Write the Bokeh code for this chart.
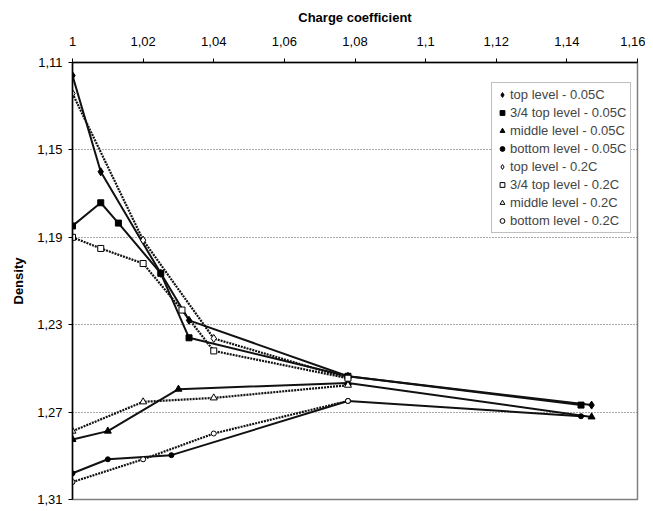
from bokeh.plotting import figure
from bokeh.models import Range1d, FixedTicker, LinearAxis, Legend, Grid
from bokeh.embed import file_html
from bokeh.resources import INLINE

# ---- data (charge coefficient, density) ----
x_top_005 = [1.0, 1.008, 1.025, 1.033, 1.078, 1.147]
y_top_005 = [1.116, 1.160, 1.2065, 1.228, 1.2536, 1.2668]

x_34_005 = [1.0, 1.008, 1.013, 1.025, 1.033, 1.078, 1.144]
y_34_005 = [1.1848, 1.1742, 1.1835, 1.2065, 1.236, 1.2536, 1.2668]

x_mid_005 = [1.0, 1.010, 1.030, 1.078, 1.147]
y_mid_005 = [1.2825, 1.2787, 1.2595, 1.2567, 1.2722]

x_bot_005 = [1.0, 1.010, 1.028, 1.078, 1.144]
y_bot_005 = [1.298, 1.2916, 1.2897, 1.2649, 1.2719]

x_top_02 = [1.0, 1.020, 1.040, 1.078]
y_top_02 = [1.1242, 1.1913, 1.2363, 1.2545]

x_34_02 = [1.0, 1.008, 1.020, 1.031, 1.040, 1.078]
y_34_02 = [1.190, 1.1951, 1.202, 1.2233, 1.242, 1.2545]

x_mid_02 = [1.0, 1.020, 1.040, 1.078]
y_mid_02 = [1.2787, 1.2653, 1.2635, 1.2577]

x_bot_02 = [1.0, 1.020, 1.040, 1.078]
y_bot_02 = [1.302, 1.2916, 1.2798, 1.2649]

x_ticks = [1.0, 1.02, 1.04, 1.06, 1.08, 1.10, 1.12, 1.14, 1.16]
x_tick_labels = ["1", "1,02", "1,04", "1,06", "1,08", "1,1", "1,12", "1,14", "1,16"]
y_ticks = [1.11, 1.15, 1.19, 1.23, 1.27, 1.31]
y_tick_labels = ["1,11", "1,15", "1,19", "1,23", "1,27", "1,31"]

FONT = "Liberation Sans"

p = figure(width=645, height=509, output_backend="svg", toolbar_location=None,
           x_range=Range1d(1.0, 1.16), y_range=Range1d(1.31, 1.11),
           x_axis_location=None, y_axis_location=None,
           min_border_left=72, min_border_right=8, min_border_top=62, min_border_bottom=10)
p.background_fill_color = "white"
p.border_fill_color = "white"
p.outline_line_color = "#808080"
p.outline_line_width = 1.5

xaxis = LinearAxis(axis_label="Charge coefficient")
xaxis.ticker = FixedTicker(ticks=x_ticks)
xaxis.major_label_overrides = {t: l for t, l in zip(x_ticks, x_tick_labels)}
yaxis = LinearAxis(axis_label="Density")
yaxis.ticker = FixedTicker(ticks=y_ticks)
yaxis.major_label_overrides = {t: l for t, l in zip(y_ticks, y_tick_labels)}
for ax in (xaxis, yaxis):
    ax.axis_line_color = "black"
    ax.axis_line_width = 1.5
    ax.major_tick_line_color = "black"
    ax.minor_tick_line_color = None
    ax.major_tick_in = 0
    ax.major_tick_out = 4
    ax.major_label_text_font = FONT
    ax.major_label_text_font_size = "13px"
    ax.major_label_text_color = "black"
    ax.axis_label_text_font = FONT
    ax.axis_label_text_font_size = "13px"
    ax.axis_label_text_font_style = "bold"
    ax.axis_label_text_color = "black"
xaxis.major_label_standoff = 13
xaxis.axis_label_standoff = 9
yaxis.major_label_standoff = 6
yaxis.axis_label_standoff = 8
yaxis.major_label_orientation = "horizontal"
p.add_layout(xaxis, "above")
p.add_layout(yaxis, "left")

p.xgrid.visible = False
p.ygrid.visible = False
yg = Grid(dimension=1, ticker=FixedTicker(ticks=y_ticks[1:-1]))
yg.grid_line_color = "#555555"
yg.grid_line_dash = "1 2"
yg.grid_line_width = 1
p.add_layout(yg)

LC = "#111111"
solid = [(x_top_005, y_top_005), (x_34_005, y_34_005), (x_mid_005, y_mid_005), (x_bot_005, y_bot_005)]
dotted = [(x_top_02, y_top_02), (x_34_02, y_34_02), (x_mid_02, y_mid_02), (x_bot_02, y_bot_02)]
for xs, ys in dotted:
    p.line(xs, ys, line_color=LC, line_width=2.2, line_dash="2 1")
for xs, ys in solid:
    p.line(xs, ys, line_color=LC, line_width=2)

markers = ["diamond", "square", "triangle", "circle"]
msizes = [8, 6, 7, 5]
names = ["top level", "3/4 top level", "middle level", "bottom level"]
renderers_005 = []
renderers_02 = []
for (xs, ys), m, s, n in zip(solid, markers, msizes, names):
    r = p.scatter(xs, ys, marker=m, size=s, fill_color="black", line_color="black")
    renderers_005.append((n + " - 0.05C", [r]))
for (xs, ys), m, s, n in zip(dotted, markers, msizes, names):
    r = p.scatter(xs, ys, marker=m, size=s, fill_color="white", line_color="black", line_width=1)
    renderers_02.append((n + " - 0.2C", [r]))

legend = Legend(items=renderers_005 + renderers_02, location=(419, 266))
legend.label_text_font = FONT
legend.label_text_font_size = "13px"
legend.label_height = 14
legend.glyph_height = 13
legend.glyph_width = 12
legend.label_standoff = 2
legend.spacing = 3
legend.padding = 4
legend.margin = 0
legend.border_line_color = "#808080"
legend.border_line_width = 1
legend.background_fill_color = "white"
legend.background_fill_alpha = 1
p.add_layout(legend, "center")

open("out.html", "w").write(file_html(p, INLINE))
